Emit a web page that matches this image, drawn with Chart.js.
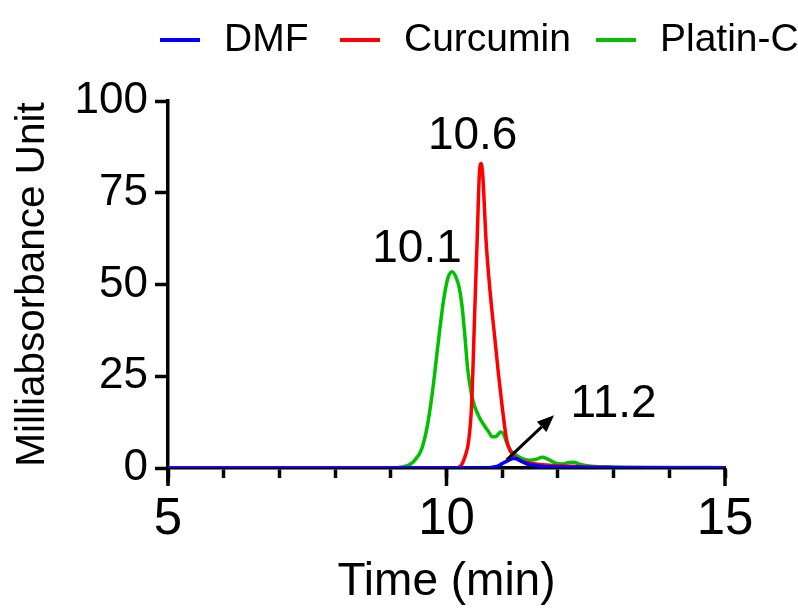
<!DOCTYPE html>
<html>
<head>
<meta charset="utf-8">
<script src="https://cdn.jsdelivr.net/npm/chart.js@4.4.0/dist/chart.umd.min.js"></script>
<style>
  html, body { margin: 0; padding: 0; background: #fff; }
</style>
</head>
<body>
<canvas id="chart" width="798" height="610"></canvas>
<script>
// series do cromatograma (tempo em min, absorbancia em mAU)
const seriesLabels = ['DMF', 'Curcumin', 'Platin-C'];
const seriesColors = ['#0000ff', '#ff0000', '#00c000'];

const dmfTime   = [5, 10.75, 10.85, 10.93, 11.0, 11.1, 11.2, 11.27, 11.35, 11.45, 11.55, 11.7, 12.0, 12.5, 13.0, 15];
const dmfValues = [0, 0, 0.3, 0.6, 1.2, 2.0, 2.6, 2.5, 1.8, 1.1, 0.8, 0.5, 0.3, 0.15, 0.05, 0];

const curcuminTime   = [5, 10.15, 10.25, 10.33, 10.4, 10.45, 10.51, 10.55, 10.59, 10.62, 10.65, 10.71, 10.78, 10.87, 10.93, 11.0, 11.08, 11.15, 11.29, 11.45, 11.6, 11.8, 12.0, 12.5, 13.0, 15];
const curcuminValues = [0, 0, 0.5, 3, 7.6, 17, 44, 62, 80, 83, 80, 62, 48.5, 35, 26, 16.7, 7.6, 4.5, 2.2, 1.5, 1.1, 0.8, 0.6, 0.3, 0.15, 0.05];

const platinTime   = [5, 9.0, 9.2, 9.35, 9.45, 9.55, 9.65, 9.75, 9.85, 9.95, 10.03, 10.1, 10.17, 10.23, 10.28, 10.33, 10.38, 10.45, 10.5, 10.6, 10.68, 10.75, 10.82, 10.9, 10.97, 11.02, 11.08, 11.15, 11.25, 11.35, 11.47, 11.6, 11.72, 11.82, 11.95, 12.08, 12.2, 12.28, 12.4, 12.6, 13.0, 14.0, 15];
const platinValues = [0, 0, 0.3, 1, 2.5, 5, 11, 21, 34, 46, 52, 53.5, 52, 49, 44, 36, 27, 20, 17, 13.5, 11.5, 10, 8.5, 8.7, 9.8, 9.3, 7, 4.8, 3.5, 2.6, 2.1, 2.3, 2.9, 2.4, 1.4, 1.1, 1.5, 1.6, 1.0, 0.5, 0.3, 0.15, 0.1];

const xLabeledTicks = [5, 10, 15];
const yTickStep = 25;

// rotulos dos picos: texto, tempo, valor (linha de base do texto)
const peakText  = ['10.1', '10.6', '11.2'];
const peakTime  = [9.47, 10.47, 13.0];
const peakValue = [56, 87, 13.9];

// seta apontando o pico do DMF: [tempo, valor]
const arrowFrom = [11.08, 2.2];
const arrowTo   = [11.93, 14.4];

Chart.defaults.font.family = "'Liberation Sans', Arial, sans-serif";
Chart.defaults.color = '#000';

function toPoints(t, v) {
  return t.map((x, i) => ({x: x, y: v[i]}));
}

const extras = {
  id: 'extras',
  afterDraw(chart) {
    const ctx = chart.ctx;
    const xs = chart.scales.x, ys = chart.scales.y;
    const area = chart.chartArea;
    ctx.save();
    ctx.strokeStyle = '#000';
    ctx.lineWidth = 3.5;
    // ticks maiores em 5, 10, 15
    xLabeledTicks.forEach(v => {
      const px = xs.getPixelForValue(v);
      ctx.beginPath();
      ctx.moveTo(px, area.bottom);
      ctx.lineTo(px, area.bottom + 18);
      ctx.stroke();
    });
    // eixo y continua um pouco abaixo do zero
    ctx.beginPath();
    ctx.moveTo(area.left, area.bottom);
    ctx.lineTo(area.left, area.bottom + 15);
    ctx.stroke();

    // seta
    const x0 = xs.getPixelForValue(arrowFrom[0]), y0 = ys.getPixelForValue(arrowFrom[1]);
    const x1 = xs.getPixelForValue(arrowTo[0]), y1 = ys.getPixelForValue(arrowTo[1]);
    const ang = Math.atan2(y1 - y0, x1 - x0);
    const hl = 17, hw = 7;
    const bx = x1 - hl * Math.cos(ang), by = y1 - hl * Math.sin(ang);
    ctx.lineWidth = 3;
    ctx.beginPath();
    ctx.moveTo(x0, y0);
    ctx.lineTo(bx, by);
    ctx.stroke();
    ctx.fillStyle = '#000';
    ctx.beginPath();
    ctx.moveTo(x1, y1);
    ctx.lineTo(bx + hw * Math.sin(ang), by - hw * Math.cos(ang));
    ctx.lineTo(bx - hw * Math.sin(ang), by + hw * Math.cos(ang));
    ctx.closePath();
    ctx.fill();

    // textos dos picos
    ctx.font = "46px 'Liberation Sans', Arial, sans-serif";
    ctx.textAlign = 'center';
    ctx.textBaseline = 'alphabetic';
    peakText.forEach((t, i) => {
      ctx.fillText(t, xs.getPixelForValue(peakTime[i]), ys.getPixelForValue(peakValue[i]));
    });

    // legenda
    const legX = [160, 340, 596];
    ctx.font = "39px 'Liberation Sans', Arial, sans-serif";
    ctx.textAlign = 'left';
    ctx.textBaseline = 'middle';
    ctx.lineWidth = 4;
    seriesLabels.forEach((lab, i) => {
      ctx.strokeStyle = seriesColors[i];
      ctx.beginPath();
      ctx.moveTo(legX[i], 40);
      ctx.lineTo(legX[i] + 40, 40);
      ctx.stroke();
      ctx.fillStyle = '#000';
      ctx.fillText(lab, legX[i] + 64, 40);
    });
    ctx.restore();
  }
};

const ctx = document.getElementById('chart').getContext('2d');
const myChart = new Chart(ctx, {
  type: 'line',
  data: {
    datasets: [
      {label: seriesLabels[0], data: toPoints(dmfTime, dmfValues), borderColor: seriesColors[0]},
      {label: seriesLabels[1], data: toPoints(curcuminTime, curcuminValues), borderColor: seriesColors[1]},
      {label: seriesLabels[2], data: toPoints(platinTime, platinValues), borderColor: seriesColors[2]}
    ]
  },
  options: {
    responsive: false,
    animation: false,
    devicePixelRatio: 1,
    elements: {
      line: {borderWidth: 3.5, cubicInterpolationMode: 'monotone', fill: false},
      point: {radius: 0}
    },
    layout: {padding: {top: 101, right: 73, left: 0, bottom: 0}},
    plugins: {legend: {display: false}, tooltip: {enabled: false}},
    scales: {
      x: {
        type: 'linear', min: 5, max: 15,
        ticks: {
          stepSize: 1, autoSkip: false, maxRotation: 0, padding: 11,
          font: {size: 51},
          callback: v => xLabeledTicks.includes(v) ? v : ''
        },
        grid: {drawOnChartArea: false, tickLength: 10, tickWidth: 3.5, tickColor: '#000'},
        border: {color: '#000', width: 3.5},
        title: {display: true, text: 'Time (min)', font: {size: 46}, padding: {top: 0, bottom: 0}},
        afterFit: s => { s.height = 142; }
      },
      y: {
        min: 0, max: 100,
        ticks: {stepSize: yTickStep, padding: 7, font: {size: 44}},
        grid: {drawOnChartArea: false, tickLength: 13, tickWidth: 3.5, tickColor: '#000'},
        border: {color: '#000', width: 3.5},
        title: {display: true, text: 'Milliabsorbance Unit', font: {size: 40.5}, padding: {top: 9, bottom: 0}},
        afterFit: s => { s.width = 168; }
      }
    }
  },
  plugins: [extras]
});
</script>
</body>
</html>
